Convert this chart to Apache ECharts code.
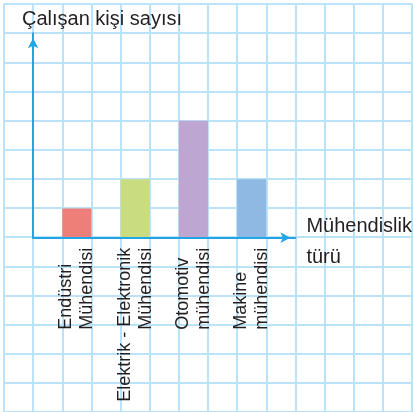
<!DOCTYPE html>
<html>
<head>
<meta charset="utf-8">
<script src="https://cdn.jsdelivr.net/npm/echarts@6/dist/echarts.min.js"></script>
<style>
  html, body { margin: 0; padding: 0; background: #fff; }
  #chart { width: 413px; height: 412px; }
</style>
</head>
<body>
<div id="chart"></div>
<script>
// veriler
const categories = ['Endüstri\nMühendisi', 'Elektrik - Elektronik\nMühendisi', 'Otomotiv\nmühendisi', 'Makine\nmühendisi'];
const values = [1, 2, 4, 2];
const yTitle = 'Çalışan kişi sayısı';
const xTitle = 'Mühendislik\ntürü';

const barColors = ['#ee7f78', '#c9dc80', '#bda6d1', '#8fb9e2'];
const textColor = '#231f20';
const gridColor = '#bae3f8';
const axisColor = '#22a5e4';
const font = 'Liberation Sans, Arial, sans-serif';

const chart = echarts.init(document.getElementById('chart'));

// kareli kağıt arka planı
const paperAxis = {
  type: 'value', min: 0, max: 14, interval: 1,
  axisLine: { show: false }, axisTick: { show: false }, axisLabel: { show: false },
  splitLine: { show: true, lineStyle: { color: gridColor, width: 2 } }
};

// oklu eksenler
const arrowLine = {
  show: true,
  symbol: ['none', 'arrow'],
  symbolSize: [8, 10],
  symbolOffset: [0, -5],
  lineStyle: { color: axisColor, width: 2 }
};

const option = {
  animation: false,
  backgroundColor: '#fff',
  title: {
    text: yTitle,
    left: 17,
    top: 4,
    textStyle: { fontSize: 20, fontWeight: 'normal', color: textColor, fontFamily: font }
  },
  grid: [
    { left: 4, top: 4, width: 408, height: 409 },
    { left: 33.1, top: 33.2, right: 117.6, bottom: 174.3 },
    { left: 47.7, top: 33.2, right: 132.2, bottom: 174.3 }
  ],
  xAxis: [
    Object.assign({ gridIndex: 0 }, paperAxis),
    {
      gridIndex: 1, type: 'value', min: 0, max: 9, z: 5,
      axisLine: arrowLine, axisTick: { show: false }, axisLabel: { show: false },
      splitLine: { show: false },
      name: xTitle.split('\n').map(function (s, i) { return '{' + (i ? 'b' : 'a') + '|' + s + '}'; }).join('\n'),
      nameLocation: 'end',
      nameGap: 11,
      nameTextStyle: {
        align: 'left', verticalAlign: 'middle',
        rich: {
          a: { fontSize: 20, lineHeight: 39, verticalAlign: 'bottom', color: textColor, fontFamily: font },
          b: { fontSize: 20, lineHeight: 41, color: textColor, fontFamily: font }
        }
      }
    },
    {
      gridIndex: 2, type: 'category', data: categories,
      axisLine: { show: false }, axisTick: { show: false },
      axisLabel: {
        interval: 0,
        rotate: 90,
        margin: 10,
        formatter: function (value) {
          const lines = value.split('\n');
          const key = lines[0].length > lines[1].length ? 'r' : 'l';
          return lines.map(function (s) { return '{' + key + '|' + s + '}'; }).join('\n');
        },
        rich: {
          l: { align: 'left', fontSize: 18, lineHeight: 21, color: textColor, fontFamily: font },
          r: { align: 'right', fontSize: 18, lineHeight: 21, color: textColor, fontFamily: font }
        }
      }
    }
  ],
  yAxis: [
    Object.assign({ gridIndex: 0 }, paperAxis),
    {
      gridIndex: 1, type: 'value', min: 0, max: 7, z: 5,
      axisLine: arrowLine, axisTick: { show: false }, axisLabel: { show: false },
      splitLine: { show: false }
    },
    {
      gridIndex: 2, type: 'value', min: 0, max: 7,
      axisLine: { show: false }, axisTick: { show: false }, axisLabel: { show: false },
      splitLine: { show: false }
    }
  ],
  series: [{
    type: 'bar',
    xAxisIndex: 2,
    yAxisIndex: 2,
    barWidth: '50%',
    data: values.map(function (v, i) {
      return { value: v, itemStyle: { color: barColors[i] } };
    })
  }]
};

chart.setOption(option);
</script>
</body>
</html>
